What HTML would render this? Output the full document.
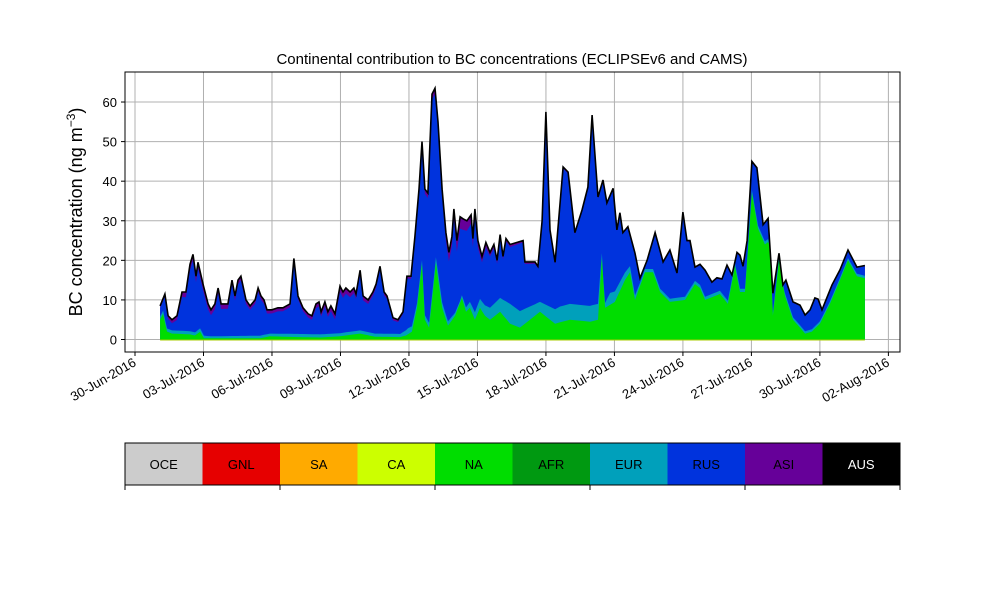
<!DOCTYPE html>
<html><head><meta charset="utf-8"><style>
body{margin:0;background:#fff}
svg{font-family:"Liberation Sans","DejaVu Sans",sans-serif}
</style></head><body>
<svg id="chart" width="1000" height="600">
<text x="512" y="64" font-size="15" text-anchor="middle">Continental contribution to BC concentrations (ECLIPSEv6 and CAMS)</text>
<g id="grid"></g><g id="areas"></g><g id="axes"></g>
<text transform="translate(82,212) rotate(-90)" font-size="18" text-anchor="middle">BC concentration (ng m<tspan baseline-shift="super" font-size="12">−3</tspan>)</text>
<g id="legend"></g>
</svg>
<script>
// days since 30-Jun-2016
const totT=[1.10,1.31,1.45,1.62,1.84,2.06,2.23,2.41,2.54,2.67,2.76,2.98,3.20,3.33,3.50,3.64,3.77,4.07,4.25,4.38,4.51,4.64,4.86,5.04,5.26,5.39,5.52,5.65,5.78,6.00,6.26,6.48,6.79,6.96,7.14,7.36,7.58,7.75,7.93,8.06,8.15,8.32,8.45,8.58,8.76,8.98,9.11,9.24,9.42,9.59,9.68,9.86,9.99,10.21,10.42,10.56,10.73,10.91,11.04,11.30,11.52,11.74,11.91,12.09,12.26,12.44,12.57,12.70,12.83,13.01,13.14,13.27,13.45,13.62,13.75,13.88,13.97,14.10,14.24,14.37,14.54,14.72,14.80,14.89,15.02,15.20,15.37,15.55,15.72,15.86,15.99,16.12,16.25,16.43,17.00,17.08,17.52,17.65,17.83,18.00,18.18,18.40,18.75,18.97,19.27,19.58,19.84,20.02,20.28,20.50,20.67,20.94,21.11,21.24,21.37,21.59,21.90,22.12,22.43,22.78,23.13,23.43,23.74,24.00,24.18,24.31,24.53,24.75,24.97,25.27,25.49,25.71,25.93,26.15,26.37,26.50,26.63,26.81,27.02,27.24,27.38,27.51,27.73,27.94,28.21,28.38,28.51,28.82,29.13,29.35,29.57,29.78,29.92,30.09,30.53,30.88,31.23,31.62,31.97];
const totV=[8.5,11.5,6,5,6,12,12,19,21.5,16,19.5,14,9,7.5,9,13,9,9,15,11,15,16,10,8.5,10,13,11,10,7.5,7.5,8,8,9,20.5,11,8,6.5,6,9,9.5,7,9.5,7,8.5,6.5,13.5,12,13,12,13,11.5,17.5,11,10,12,14,18.5,12,11,5.5,5,7,16,16,26,38,50,38,37,62,63.5,55,38,27,22,26,33,25,31,30.5,30,31.5,25.5,33,25,21,24.5,22,24,20,26.5,21,25.5,24,25,19.6,19.6,18.5,30,57.5,27.7,19.5,43.6,42.3,27,32.7,38.5,56.7,36,40.3,34.5,38.2,27.7,32,27,28.5,21.8,15.5,20,27,19.6,22.6,16.8,32.2,25,25,18.3,19,17.5,14.5,15.6,15.3,18.8,16.3,22,21.3,18.5,25,45,43.4,36,29,30.6,11.7,21.8,13.8,15,9.5,8.7,6.2,7.5,10.5,10.2,7.5,13.8,17.6,22.6,18.3,18.7];
const naT=[1.10,1.23,1.40,1.62,2.41,2.63,2.85,3.02,5.48,5.91,7.23,8.10,8.98,9.86,10.51,11.61,11.87,12.13,12.35,12.57,12.70,12.88,13.05,13.18,13.45,13.71,14.02,14.32,14.50,14.67,14.89,15.11,15.33,15.55,15.99,16.43,16.86,17.74,18.40,19.05,19.93,20.28,20.45,20.59,21.02,21.46,21.68,21.90,22.34,22.69,23.00,23.43,24.09,24.53,24.75,24.97,25.40,25.62,25.97,26.28,26.50,26.72,27.02,27.29,27.59,27.81,27.94,28.21,28.47,28.82,29.13,29.35,29.65,30.00,30.44,30.88,31.23,31.62,31.97];
const naV=[5,6.5,2,1.5,1.3,1,2,0.3,0.3,0.8,0.6,0.5,0.8,1.5,0.7,0.6,1,2,8,19,5,3,12,19.4,8,3.5,6,10.5,7,8,5,8,6,5,7,4,3,7,4,5,4.5,5,20.5,8,9.5,15,17,10,17,17,12,9.5,10,14,13,10,11,11.5,9,18.5,12,12,37,28,24,25,6,20,11,5,3,1.5,2,4,9,15,20,16,15.5];
const eurT=[1.10,2.85,3.29,7.23,11.61,11.96,12.48,13.36,14.24,14.67,15.55,15.99,16.43,17.74,18.62,20.28,20.50,20.81,22.12,24.75,27.38,29.13,31.97];
const eurV=[0.8,0.8,0.5,0.8,0.8,1.5,1,1.5,0.5,1.5,3,3.5,5,2.5,4,4,0.5,3,0.8,0.8,0.8,0.6,0.6];
const asiT=[1.10,2.41,2.85,5.04,7.23,8.98,10.29,11.83,12.48,13.14,13.58,14.24,14.89,15.55,16.86,20.37,31.97];
const asiV=[0.5,1.5,1.5,1,0.8,1.5,1,0.5,1,1.5,2,3,2,1,0.5,0.3,0.2];
const yTicks=[0,10,20,30,40,50,60];
const xTickDays=[0,3,6,9,12,15,18,21,24,27,30,33];
const xTickLabels=["30-Jun-2016","03-Jul-2016","06-Jul-2016","09-Jul-2016","12-Jul-2016","15-Jul-2016","18-Jul-2016","21-Jul-2016","24-Jul-2016","27-Jul-2016","30-Jul-2016","02-Aug-2016"];
const regions=["OCE","GNL","SA","CA","NA","AFR","EUR","RUS","ASI","AUS"];
const regionColors=["#cccccc","#e60000","#ffaa00","#ccff00","#00dd00","#009911","#00a0bb","#0033dd","#660099","#000000"];

const L=125,R=900,T=72,B=352;
const X=d=>135+d*22.83, Y=v=>339.5-v*3.958;
const NS="http://www.w3.org/2000/svg";
function mk(tag,at,parent){const e=document.createElementNS(NS,tag);for(const k in at)e.setAttribute(k,at[k]);parent.appendChild(e);return e;}
function interp(ts,vs,t){if(t<=ts[0])return vs[0];for(let i=1;i<ts.length;i++){if(t<=ts[i]){const f=(t-ts[i-1])/(ts[i]-ts[i-1]);return vs[i-1]+f*(vs[i]-vs[i-1]);}}return vs[vs.length-1];}
const allT=[...new Set([...totT,...naT,...eurT,...asiT])].sort((a,b)=>a-b);
const grid=document.getElementById('grid'),areas=document.getElementById('areas'),axes=document.getElementById('axes');
yTicks.forEach(v=>{const l=mk('line',{x1:L,x2:R,y1:Y(v),y2:Y(v),stroke:'#b0b0b0','stroke-width':1},grid);});
xTickDays.forEach(d=>{const l=mk('line',{x1:X(d),x2:X(d),y1:T,y2:B,stroke:'#b0b0b0','stroke-width':1},grid);});
function area(fnTop,color,name){let d='M'+X(allT[0])+','+Y(0);allT.forEach(t=>{d+='L'+X(t).toFixed(1)+','+Y(fnTop(t)).toFixed(1);});d+='L'+X(allT[allT.length-1])+','+Y(0)+'Z';const p=mk('path',{d:d,fill:color},areas);}
const tot=t=>interp(totT,totV,t),na=t=>interp(naT,naV,t),eur=t=>interp(eurT,eurV,t),asi=t=>interp(asiT,asiV,t);
area(tot,'#660099','asi-area');
area(t=>Math.max(tot(t)-asi(t),0),'#0033dd','rus-area');
area(t=>Math.min(na(t)+eur(t),tot(t)),'#00a0bb','eur-area');
area(t=>Math.min(na(t),tot(t)),'#00dd00','na-area');
const cl=mk('line',{x1:X(totT[0]),x2:X(totT[totT.length-1]),y1:Y(0)+0.5,y2:Y(0)+0.5,stroke:'#aacc00','stroke-width':1},areas);

let ld='';totT.forEach((t,i)=>{ld+=(i?'L':'M')+X(t).toFixed(1)+','+Y(totV[i]).toFixed(1);});
const tl=mk('path',{d:ld,fill:'none',stroke:'#000','stroke-width':1.6},areas);

const fr=mk('rect',{x:L,y:T,width:R-L,height:B-T,fill:'none',stroke:'#000','stroke-width':1},axes);

yTicks.forEach(v=>{mk('line',{x1:L-4,x2:L,y1:Y(v),y2:Y(v),stroke:'#000'},axes);const tx=mk('text',{x:L-8,y:Y(v)+5,'font-size':13,'text-anchor':'end'},axes);tx.textContent=v;});
xTickDays.forEach((d,i)=>{mk('line',{x1:X(d),x2:X(d),y1:B,y2:B+4,stroke:'#000'},axes);const tx=mk('text',{transform:`translate(${X(d)+2},${B+13}) rotate(-30)`,'font-size':13,'text-anchor':'end'},axes);tx.textContent=xTickLabels[i];});
const lg=document.getElementById('legend');const bw=(R-L)/regions.length;
regions.forEach((r,i)=>{const g=mk('g',{},lg);mk('rect',{x:L+i*bw,y:443,width:bw,height:42,fill:regionColors[i]},g);const tx=mk('text',{x:L+i*bw+bw/2,y:469,'font-size':13,'text-anchor':'middle',fill:r==='AUS'?'#fff':'#000'},g);tx.textContent=r;});
mk('rect',{x:L,y:443,width:R-L,height:42,fill:'none',stroke:'#000','stroke-width':1},lg);
[0,2,4,6,8,10].forEach(i=>mk('line',{x1:L+i*bw,x2:L+i*bw,y1:485,y2:490,stroke:'#000'},lg));
</script>
</body></html>
